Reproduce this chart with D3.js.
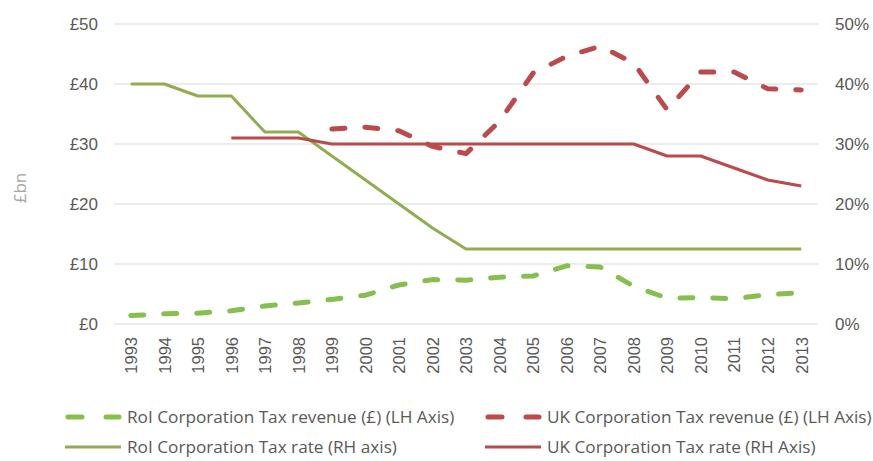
<!DOCTYPE html>
<html>
<head>
<meta charset="utf-8">
<script src="https://cdn.jsdelivr.net/npm/d3@7"></script>
<style>
  body { margin: 0; background: #fff; }
  svg { display: block; font-family: "Open Sans", "Noto Sans", sans-serif; }
</style>
</head>
<body>
<svg id="chart" width="873" height="461"></svg>
<script>
// Corporation tax: revenue (£bn, left axis) and headline rate (%, right axis)
const years = ["1993","1994","1995","1996","1997","1998","1999","2000","2001","2002","2003",
               "2004","2005","2006","2007","2008","2009","2010","2011","2012","2013"];

const roiRevenue = [1.4, 1.7, 1.8, 2.2, 3.0, 3.5, 4.1, 4.8, 6.5, 7.4, 7.3,
                    7.8, 8.0, 9.7, 9.5, 6.3, 4.3, 4.4, 4.2, 4.9, 5.2];
const ukRevenue  = [null, null, null, null, null, null, 32.5, 32.8, 32.2, 29.6, 28.4,
                    33.8, 41.8, 44.6, 46.3, 43.5, 35.7, 42.0, 42.0, 39.2, 39.0];
const roiRate    = [40, 40, 38, 38, 32, 32, 28, 24, 20, 16, 12.5,
                    12.5, 12.5, 12.5, 12.5, 12.5, 12.5, 12.5, 12.5, 12.5, 12.5];
const ukRate     = [null, null, null, 31, 31, 31, 30, 30, 30, 30, 30,
                    30, 30, 30, 30, 30, 28, 28, 26, 24, 23];

const leftTicks  = [0, 10, 20, 30, 40, 50];
const rightTicks = [0, 10, 20, 30, 40, 50];

const seriesNames = [
  "RoI Corporation Tax revenue (£) (LH Axis)",
  "UK Corporation Tax revenue (£) (LH Axis)",
  "RoI Corporation Tax rate (RH axis)",
  "UK Corporation Tax rate (RH Axis)"
];

const GREEN_DASH = "#86bf4f";
const GREEN = "#90ad52";
const RED = "#bb4a4c";
const TEXT = "#595959";
const GRID = "#d9d9d9";

const svg = d3.select("#chart");
const plot = { left: 114, right: 818, top: 24, bottom: 324 };

const x = d3.scalePoint().domain(years).range([plot.left, plot.right]).padding(0.5);
const yL = d3.scaleLinear().domain([0, 50]).range([plot.bottom, plot.top]);
const yR = d3.scaleLinear().domain([0, 50]).range([plot.bottom, plot.top]);

// gridlines
svg.append("g")
  .selectAll("line").data(leftTicks).join("line")
  .attr("x1", plot.left).attr("x2", plot.right)
  .attr("y1", d => yL(d)).attr("y2", d => yL(d))
  .attr("stroke", GRID).attr("stroke-width", 1);

// left axis
const axL = svg.append("g").attr("transform", `translate(${plot.left},0)`)
  .call(d3.axisLeft(yL).tickValues(leftTicks).tickFormat(d => "£" + d).tickSize(0).tickPadding(16));
axL.select(".domain").remove();
axL.selectAll("text").attr("fill", TEXT).style("font-size", "17px");

// right axis
const axR = svg.append("g").attr("transform", `translate(${plot.right},0)`)
  .call(d3.axisRight(yR).tickValues(rightTicks).tickFormat(d => d + "%").tickSize(0).tickPadding(17));
axR.select(".domain").remove();
axR.selectAll("text").attr("fill", TEXT).style("font-size", "17px");

// category axis with vertical year labels
const axX = svg.append("g").attr("transform", `translate(0,${plot.bottom})`)
  .call(d3.axisBottom(x).tickSize(0));
axX.select(".domain").remove();
axX.selectAll("text")
  .attr("fill", TEXT).style("font-size", "16.5px")
  .attr("transform", "rotate(-90)")
  .attr("text-anchor", "end")
  .attr("x", -13).attr("y", 0).attr("dy", "0.35em");

// left axis title
svg.append("text")
  .attr("transform", "translate(20,188) rotate(-90)")
  .attr("text-anchor", "middle")
  .attr("dy", "0.35em")
  .attr("fill", "#a6a6a6").style("font-size", "17px")
  .text("£bn");

const lineL = d3.line().defined(d => d[1] != null).x(d => x(d[0])).y(d => yL(d[1]));
const lineR = d3.line().defined(d => d[1] != null).x(d => x(d[0])).y(d => yR(d[1]));

const zip = arr => years.map((yr, i) => [yr, arr[i]]);

const series = [
  { values: roiRate, gen: lineR, color: GREEN, width: 3, dash: null },
  { values: ukRate, gen: lineR, color: RED, width: 3, dash: null },
  { values: roiRevenue, gen: lineL, color: GREEN_DASH, width: 5, dash: "13 20" },
  { values: ukRevenue, gen: lineL, color: RED, width: 5, dash: "13 20" }
];

svg.append("g").selectAll("path").data(series).join("path")
  .attr("d", s => s.gen(zip(s.values)))
  .attr("fill", "none")
  .attr("stroke", s => s.color)
  .attr("stroke-width", s => s.width)
  .attr("stroke-linecap", s => s.dash ? "round" : "butt")
  .attr("stroke-linejoin", "round")
  .attr("stroke-dasharray", s => s.dash);

// legend
const legendItems = [
  { name: seriesNames[0], color: GREEN_DASH, dash: true, x: 65, y: 417 },
  { name: seriesNames[1], color: RED, dash: true, x: 485, y: 417 },
  { name: seriesNames[2], color: GREEN, dash: false, x: 65, y: 447 },
  { name: seriesNames[3], color: RED, dash: false, x: 485, y: 447 }
];

const lg = svg.append("g").selectAll("g").data(legendItems).join("g")
  .attr("transform", d => `translate(${d.x},${d.y})`);

lg.append("line")
  .attr("x1", d => d.dash ? 3 : 0).attr("x2", d => d.dash ? 54 : 56)
  .attr("y1", 0).attr("y2", 0)
  .attr("stroke", d => d.color)
  .attr("stroke-width", d => d.dash ? 5 : 3)
  .attr("stroke-linecap", d => d.dash ? "round" : "butt")
  .attr("stroke-dasharray", d => d.dash ? "14 24" : null);

lg.append("text")
  .attr("x", 62).attr("y", 0).attr("dy", "0.35em")
  .attr("fill", TEXT).style("font-size", "17.2px")
  .text(d => d.name);
</script>
</body>
</html>
